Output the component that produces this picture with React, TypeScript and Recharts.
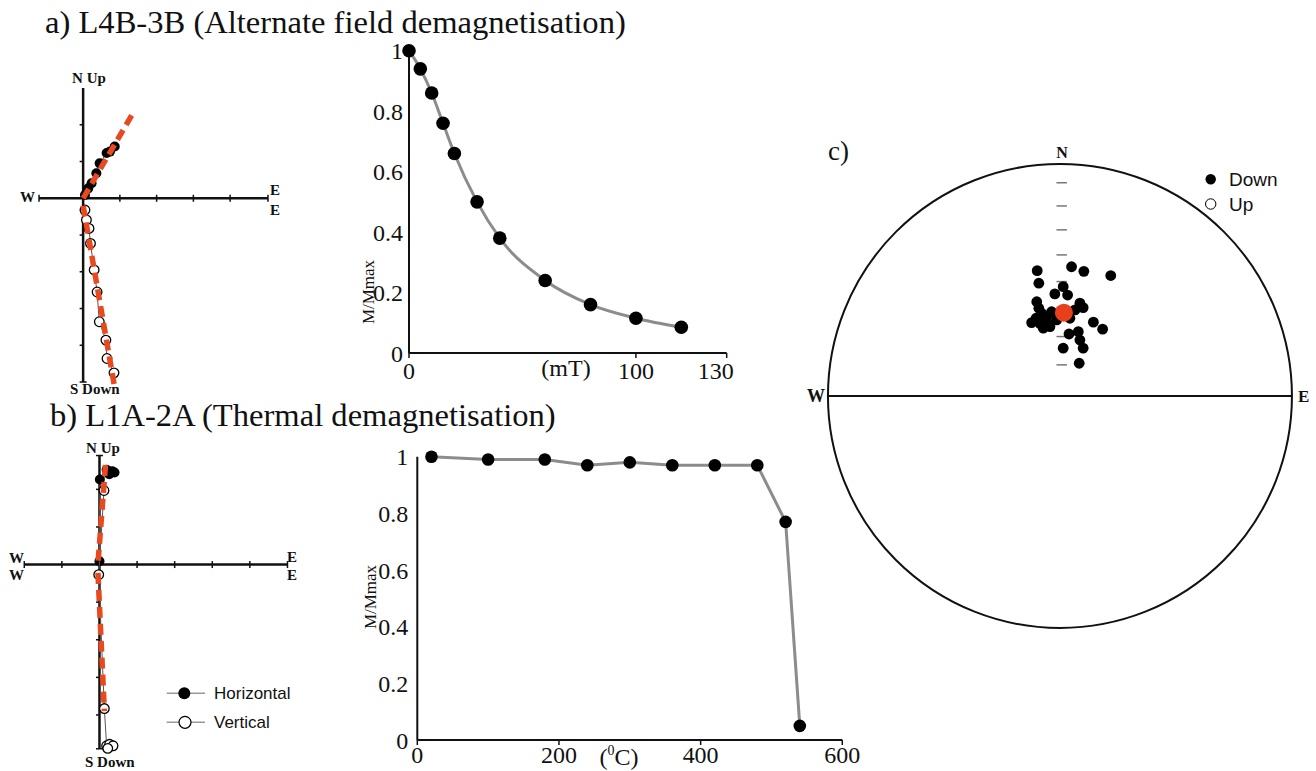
import React from 'react';
import {
  LineChart,
  Line,
  XAxis,
  YAxis,
  ScatterChart,
  Scatter,
  ReferenceLine,
  ReferenceDot,
} from 'recharts';

const SERIF = "'Liberation Serif', 'Times New Roman', serif";
const SANS = "'Liberation Sans', Arial, sans-serif";
const INK = '#111';
const FIT = '#e8491f';
const CURVE = '#8c8c8c';

// a) L4B-3B - alternating field demagnetisation
const afField = [0, 5, 10, 15, 20, 30, 40, 60, 80, 100, 120];
const afMoment = [1, 0.94, 0.86, 0.76, 0.66, 0.5, 0.38, 0.24, 0.16, 0.115, 0.085];
const afTicks = [0, 100, 140];
const afTickLabels = ['0', '100', '130'];

// b) L1A-2A - thermal demagnetisation
const thTemp = [20, 100, 180, 240, 300, 360, 420, 480, 520, 540];
const thMoment = [1.0, 0.99, 0.99, 0.97, 0.98, 0.97, 0.97, 0.97, 0.77, 0.05];
const thTicks = [0, 200, 400, 600];

const momentTicks = [0, 0.2, 0.4, 0.6, 0.8, 1];

// Zijderveld a (units = one tick interval)
const zaHorizontal = [
  [0.05, 0.09], [0.14, 0.27], [0.23, 0.41], [0.36, 0.68],
  [0.45, 0.95], [0.64, 1.23], [0.73, 1.27], [0.86, 1.41],
];
const zaVertical = [
  [0.05, -0.32], [0.09, -0.59], [0.16, -0.82], [0.2, -1.23], [0.3, -1.95],
  [0.38, -2.55], [0.44, -3.36], [0.62, -3.86], [0.65, -4.36], [0.84, -4.75],
];
const zaFits = [
  [[0, 0], [1.36, 2.32]],
  [[0, -0.2], [0.85, -5.1]],
];

// Zijderveld b
const zbHorizontal = [
  [0.4, 2.45], [0.34, 2.48], [0.19, 2.52], [0.26, 2.4], [0.01, 2.26], [0, 0.09],
];
const zbVertical = [
  [0.12, 1.97], [-0.02, -0.27], [0.13, -3.83], [0.19, -4.82],
  [0.27, -4.78], [0.36, -4.82], [0.22, -4.89],
];
const zbFits = [
  [[0.16, 2.65], [-0.04, 0.04]],
  [[-0.04, -0.22], [0.13, -3.9]],
];

// c) stereonet, site directions (x = east, y = north, unit circle)
const siteDirs = [
  [-0.098, 0.54], [0.05, 0.557], [0.103, 0.537], [0.219, 0.519], [-0.091, 0.486],
  [0.014, 0.471], [-0.022, 0.44], [0.033, 0.435], [-0.1, 0.406], [-0.091, 0.378],
  [0.086, 0.4], [0.1, 0.381], [-0.079, 0.356], [-0.057, 0.342], [-0.122, 0.316],
  [-0.086, 0.313], [-0.072, 0.292], [-0.043, 0.299], [-0.014, 0.328], [0.043, 0.335],
  [0.065, 0.371], [0.144, 0.318], [0.184, 0.288], [0.039, 0.267], [0.079, 0.277],
  [0.086, 0.241], [0.1, 0.206], [0.014, 0.206], [0.083, 0.141], [-0.103, 0.335],
  [-0.055, 0.316], [-0.036, 0.363],
];
const meanDir = [[0.017, 0.359]];
const incTickRadii = [0.134, 0.256, 0.379, 0.493, 0.608, 0.716, 0.819, 0.919];

const toPts = (a: number[][]) => a.map(([x, y]) => ({ x, y }));

const blackDot = (r: number, fill = '#000') => (p: any) => (
  <circle cx={p.cx} cy={p.cy} r={r} fill={fill} />
);
const openDot = (r: number) => (p: any) => (
  <circle cx={p.cx} cy={p.cy} r={r} fill="#fff" stroke="#000" strokeWidth={1.3} />
);
const noDot = () => <g />;

function Zijderveld(props: any) {
  const { ox, oy, unit, xDom, yDom, xEnds, yEnds, xTicks, yTicks, yCaps, horiz, vert, fits } = props;
  const w = (xDom[1] - xDom[0]) * unit;
  const h = (yDom[1] - yDom[0]) * unit;
  const tk = 3.5 / unit;
  return (
    <div style={{ position: 'absolute', left: ox + xDom[0] * unit, top: oy - yDom[1] * unit }}>
      <ScatterChart width={w} height={h} margin={{ top: 0, right: 0, bottom: 0, left: 0 }}>
        <XAxis type="number" dataKey="x" domain={xDom} hide allowDataOverflow />
        <YAxis type="number" dataKey="y" domain={yDom} hide allowDataOverflow />
        <ReferenceLine segment={[{ x: xEnds[0], y: 0 }, { x: xEnds[1], y: 0 }]} stroke={INK} strokeWidth={2.5} />
        <ReferenceLine segment={[{ x: 0, y: yEnds[0] }, { x: 0, y: yEnds[1] }]} stroke={INK} strokeWidth={2.5} />
        {[...xTicks, ...xEnds].map((t: number, i: number) => (
          <ReferenceLine key={'xt' + i} segment={[{ x: t, y: -tk }, { x: t, y: tk }]} stroke={INK} strokeWidth={1.5} />
        ))}
        {yTicks.map((t: number, i: number) => (
          <ReferenceLine key={'yt' + i} segment={[{ x: -tk, y: t }, { x: 0, y: t }]} stroke={INK} strokeWidth={1.5} />
        ))}
        {yCaps.map((t: number, i: number) => (
          <ReferenceLine key={'yc' + i} segment={[{ x: -tk, y: t }, { x: tk, y: t }]} stroke={INK} strokeWidth={1.5} />
        ))}
        <Scatter data={toPts(horiz)} line={{ stroke: '#555', strokeWidth: 1 }} shape={blackDot(5)} isAnimationActive={false} />
        <Scatter data={toPts(vert)} line={{ stroke: '#555', strokeWidth: 1 }} shape={openDot(4.8)} isAnimationActive={false} />
        {fits.map((f: number[][], i: number) => (
          <Scatter
            key={'fit' + i}
            data={toPts(f)}
            line={{ stroke: FIT, strokeWidth: 5.5, strokeDasharray: '11 6' }}
            shape={noDot}
            isAnimationActive={false}
          />
        ))}
      </ScatterChart>
    </div>
  );
}

const tickStyle = { fill: INK, fontSize: 24, fontFamily: SERIF };

const yLabel = (x: number, y: number) => () => (
  <text x={x} y={y} transform={`rotate(-90 ${x} ${y})`} textAnchor="middle" fontFamily={SERIF} fontSize={17} fill={INK}>
    M/Mmax
  </text>
);

function AfChart() {
  const data = afField.map((f, i) => ({ field: f, m: afMoment[i] }));
  const afTick = (p: any) => {
    const idx = afTicks.indexOf(p.payload.value);
    return (
      <text x={p.x + (idx === 2 ? -11 : 0)} y={p.y} dy="0.71em" textAnchor="middle" {...tickStyle}>
        {afTickLabels[idx]}
      </text>
    );
  };
  return (
    <div style={{ position: 'absolute', left: 340, top: 30 }}>
      <LineChart width={411.7} height={363} data={data} margin={{ top: 20.7, right: 25, bottom: 0, left: 0 }}>
        <XAxis
          type="number"
          dataKey="field"
          domain={[0, 140]}
          ticks={afTicks}
          interval={0}
          height={40}
          tickSize={5}
          tickMargin={4}
          axisLine={{ stroke: INK, strokeWidth: 2 }}
          tickLine={{ stroke: INK, strokeWidth: 1.5 }}
          tick={afTick}
        />
        <YAxis
          type="number"
          domain={[0, 1]}
          ticks={momentTicks}
          interval={0}
          width={69}
          tickSize={0}
          tickMargin={6}
          axisLine={{ stroke: INK, strokeWidth: 2 }}
          tick={tickStyle}
          label={yLabel(34, 262)}
        />
        <Line
          type="monotone"
          dataKey="m"
          stroke={CURVE}
          strokeWidth={3}
          dot={{ r: 6.8, fill: '#000', stroke: '#000', strokeWidth: 0 }}
          isAnimationActive={false}
        />
      </LineChart>
    </div>
  );
}

function ThermalChart() {
  const data = thTemp.map((t, i) => ({ temp: t, m: thMoment[i] }));
  return (
    <div style={{ position: 'absolute', left: 340, top: 436 }}>
      <LineChart width={524.3} height={335} data={data} margin={{ top: 20.7, right: 22, bottom: 0, left: 0 }}>
        <XAxis
          type="number"
          dataKey="temp"
          domain={[0, 600]}
          ticks={thTicks}
          interval={0}
          height={31}
          tickSize={5}
          tickMargin={1}
          axisLine={{ stroke: INK, strokeWidth: 2 }}
          tickLine={{ stroke: INK, strokeWidth: 1.5 }}
          tick={tickStyle}
        />
        <YAxis
          type="number"
          domain={[0, 1]}
          ticks={momentTicks}
          interval={0}
          width={77.3}
          tickSize={0}
          tickMargin={9}
          axisLine={{ stroke: INK, strokeWidth: 2 }}
          tick={tickStyle}
          label={yLabel(36, 161)}
        />
        <Line
          type="linear"
          dataKey="m"
          stroke={CURVE}
          strokeWidth={3}
          dot={{ r: 6.3, fill: '#000', stroke: '#000', strokeWidth: 0 }}
          isAnimationActive={false}
        />
      </LineChart>
    </div>
  );
}

function Stereonet() {
  const R = 232;
  const pad = 1.03;
  const size = 2 * R * pad;
  return (
    <div style={{ position: 'absolute', left: 1060 - R * pad, top: 396 - R * pad }}>
      <ScatterChart width={size} height={size} margin={{ top: 0, right: 0, bottom: 0, left: 0 }}>
        <XAxis type="number" dataKey="x" domain={[-pad, pad]} hide allowDataOverflow />
        <YAxis type="number" dataKey="y" domain={[-pad, pad]} hide allowDataOverflow />
        <ReferenceDot x={0} y={0} r={R} fill="none" stroke={INK} strokeWidth={2} />
        <ReferenceLine segment={[{ x: -1, y: 0 }, { x: 1, y: 0 }]} stroke={INK} strokeWidth={2} />
        {incTickRadii.map((r, i) => (
          <ReferenceLine key={'it' + i} segment={[{ x: -0.015, y: r }, { x: 0.03, y: r }]} stroke="#777" strokeWidth={1.5} />
        ))}
        <Scatter data={toPts(siteDirs)} shape={blackDot(5.4)} isAnimationActive={false} />
        <Scatter data={toPts(meanDir)} shape={blackDot(9, '#e8401c')} isAnimationActive={false} />
      </ScatterChart>
    </div>
  );
}

const bold = { fontFamily: SERIF, fontWeight: 700, fontSize: 15, fill: INK };

function Annotations() {
  return (
    <svg width={1316} height={771} style={{ position: 'absolute', left: 0, top: 0, pointerEvents: 'none' }}>
      <text x={45} y={33} fontFamily={SERIF} fontSize={32.6} fill={INK}>a) L4B-3B (Alternate field demagnetisation)</text>
      <text x={50} y={426} fontFamily={SERIF} fontSize={32.6} fill={INK}>b) L1A-2A (Thermal demagnetisation)</text>

      {/* Zijderveld a labels */}
      <text x={89} y={83} textAnchor="middle" {...bold}>N Up</text>
      <text x={70} y={394} {...bold}>S Down</text>
      <text x={20} y={202} {...bold}>W</text>
      <text x={270} y={195} {...bold}>E</text>
      <text x={270} y={215} {...bold}>E</text>

      {/* Zijderveld b labels */}
      <text x={103} y={453} textAnchor="middle" {...bold}>N Up</text>
      <text x={85} y={767} {...bold}>S Down</text>
      <text x={9} y={563} {...bold}>W</text>
      <text x={9} y={580} {...bold}>W</text>
      <text x={287} y={562} {...bold}>E</text>
      <text x={287} y={580} {...bold}>E</text>

      {/* legend for Zijderveld plots */}
      <line x1={166.7} y1={693.3} x2={205} y2={693.3} stroke="#999" strokeWidth={1.5} />
      <circle cx={184.3} cy={693.3} r={6} fill="#000" />
      <text x={214} y={699} fontFamily={SANS} fontSize={17} fill={INK}>Horizontal</text>
      <line x1={166.7} y1={722.3} x2={205} y2={722.3} stroke="#999" strokeWidth={1.5} />
      <circle cx={185} cy={722.3} r={6} fill="#fff" stroke="#000" strokeWidth={1.2} />
      <text x={214} y={728} fontFamily={SANS} fontSize={17} fill={INK}>Vertical</text>

      {/* axis units */}
      <text x={566} y={376} textAnchor="middle" fontFamily={SERIF} fontSize={24} fill={INK}>(mT)</text>
      <text x={619} y={765} textAnchor="middle" fontFamily={SERIF} fontSize={24} fill={INK}>
        (<tspan fontSize={14} dy={-10}>0</tspan><tspan dy={10}>C)</tspan>
      </text>

      {/* stereonet labels */}
      <text x={828} y={160} fontFamily={SERIF} fontSize={27} fill={INK}>c)</text>
      <text x={1062} y={158} textAnchor="middle" {...bold} fontSize={16}>N</text>
      <text x={807} y={402} {...bold} fontSize={18}>W</text>
      <text x={1298} y={402} {...bold} fontSize={17}>E</text>
      <circle cx={1210.7} cy={179.3} r={5.2} fill="#000" />
      <text x={1229} y={186} fontFamily={SANS} fontSize={19} fill={INK}>Down</text>
      <circle cx={1210.7} cy={204} r={5.2} fill="#fff" stroke="#000" strokeWidth={1} />
      <text x={1229} y={211} fontFamily={SANS} fontSize={19} fill={INK}>Up</text>
    </svg>
  );
}

export default function App() {
  return (
    <div style={{ position: 'relative', width: 1316, height: 771, background: '#fff', overflow: 'hidden' }}>
      <style>{'body{margin:0}'}</style>
      <Zijderveld
        ox={83.3}
        oy={198.3}
        unit={36.75}
        xDom={[-1.5, 5.5]}
        yDom={[-5.5, 3.3]}
        xEnds={[-1.2, 5.03]}
        yEnds={[-5, 3]}
        xTicks={[1, 2, 3, 4]}
        yTicks={[2, 1, -1, -2, -3, -4]}
        yCaps={[-5]}
        horiz={zaHorizontal}
        vert={zaVertical}
        fits={zaFits}
      />
      <Zijderveld
        ox={99}
        oy={565}
        unit={37.6}
        xDom={[-2.3, 5.3]}
        yDom={[-5.2, 3.1]}
        xEnds={[-2, 5]}
        yEnds={[-4.9, 2.9]}
        xTicks={[-1, 1, 2, 3, 4]}
        yTicks={[2, 1, -1, -2, -3, -4]}
        yCaps={[2.9, -4.9]}
        horiz={zbHorizontal}
        vert={zbVertical}
        fits={zbFits}
      />
      <AfChart />
      <ThermalChart />
      <Stereonet />
      <Annotations />
    </div>
  );
}
